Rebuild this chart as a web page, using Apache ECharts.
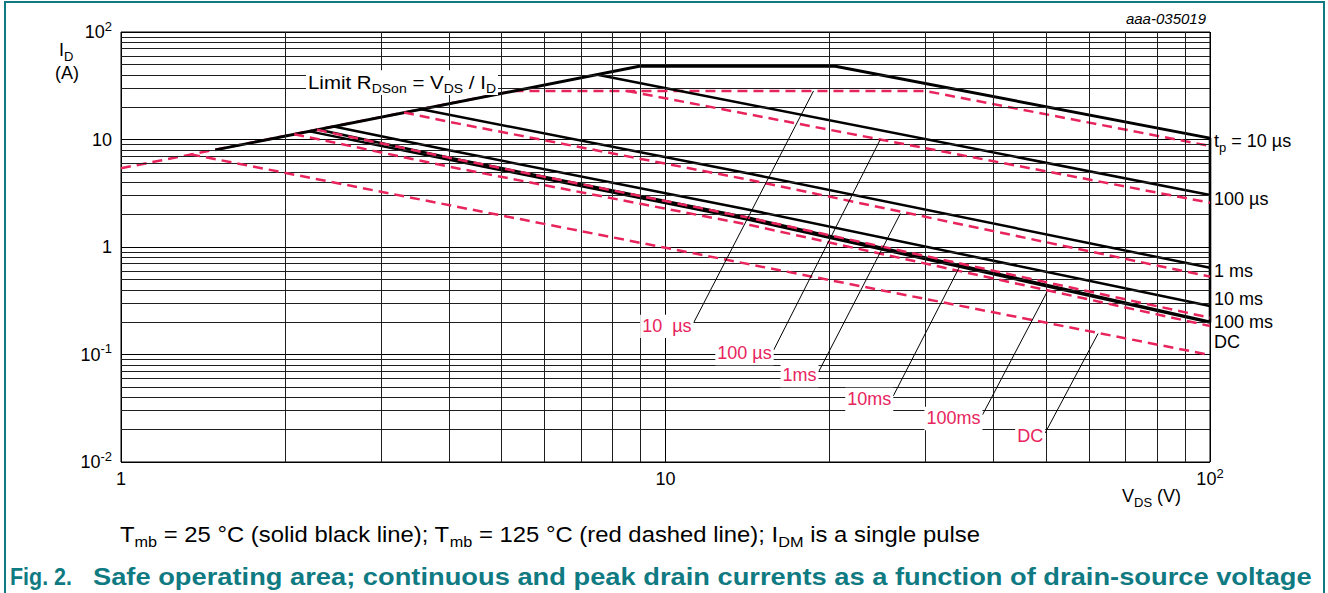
<!DOCTYPE html>
<html>
<head>
<meta charset="utf-8">
<title>Safe operating area</title>
<script src="https://cdn.jsdelivr.net/npm/echarts@6.0.0/dist/echarts.min.js"></script>
<style>
  html, body { margin: 0; padding: 0; background: #fff; }
  #chart { width: 1328px; height: 593px; }
</style>
</head>
<body>
<div id="chart"></div>
<script>
const FONT = '"Liberation Sans", Arial, Helvetica, sans-serif';
const INK = '#000';
const RED = '#e8245d';
const TEAL = '#0f7a82';

// Decade ticks and their labels as [mantissa, exponent]
const xTickValues = [1, 10, 100];
const xTickLabels = [['1', ''], ['10', ''], ['10', '2']];
const yTickValues = [0.01, 0.1, 1, 10, 100];
const yTickLabels = [['10', '-2'], ['10', '-1'], ['1', ''], ['10', ''], ['10', '2']];
const minorSteps = [2, 3, 4, 5, 6, 7, 8, 9];

// Tmb = 25 °C, points as [V_DS (V), I_D (A)]
const tp10us25  = [[1.49, 8.0], [8.95, 48], [20.5, 48], [100, 10.3]];
const tp100us25 = [[7.5, 40], [100, 3.05]];
const tp1ms25   = [[3.56, 19.1], [14.3, 4.8], [100, 0.64]];
const tp10ms25  = [[2.46, 13.2], [4.03, 7.9], [14.3, 2.21], [100, 0.283]];
const tp100ms25 = [[2.30, 12.4], [4.03, 6.73], [14.3, 1.86], [100, 0.202]];
const dc25      = [[2.22, 11.9], [4.03, 6.45], [14.3, 1.78], [100, 0.198]];

// Tmb = 125 °C
const tp10us125  = [[1, 5.4], [5.26, 28.3], [30, 28.3], [100, 8.7]];
const tp100us125 = [[8.5, 28.3], [100, 2.58]];
const tp1ms125   = [[3.31, 17.8], [4.03, 14.5], [14.3, 4.2], [100, 0.53]];
const tp10ms125  = [[2.29, 12.3], [4.03, 6.73], [14.3, 1.86], [100, 0.22]];
const tp100ms125 = [[2.08, 11.2], [4.03, 5.55], [14.3, 1.6], [100, 0.184]];
const dc125      = [[1.34, 7.3], [100, 0.099]];

// V_DS(max) edge of the area
const vdsMax = 100;
const vdsMaxSpan = [10.3, 0.198];

// Call-outs naming the 125 °C curves: text, label end, point on the curve
const calloutText = ['10  µs', '100 µs', '1ms', '10ms', '100ms', 'DC'];
const calloutFrom = [[11.26, 0.197], [15.8, 0.110], [19.1, 0.0688], [26.2, 0.0411], [38.2, 0.0274], [49.8, 0.0186]];
const calloutTo   = [[18.7, 28.3], [24.8, 10.0], [27.0, 2.05], [34.8, 0.677], [50.2, 0.382], [62.3, 0.157]];

// Names written at the right-hand end of the 25 °C curves
const curves25 = [tp10us25, tp100us25, tp1ms25, tp10ms25, tp100ms25, dc25];
const endNames = [
  [['t', ''], ['p', 'sub'], [' = 10 µs', '']],
  [['100 µs', '']],
  [['1 ms', '']],
  [['10 ms', '']],
  [['100 ms', '']],
  [['DC', '']]
];
const endNameShift = [3, 4, 3, -7, 0, 19];

const xMinor = [1, 10].flatMap(d => minorSteps.map(s => s * d));
const yMinor = [0.01, 0.1, 1, 10].flatMap(d => minorSteps.map(s => +(s * d).toPrecision(3)));

const chart = echarts.init(document.getElementById('chart'), null, { renderer: 'svg' });

const solid = (data, w) => ({
  type: 'line', data, symbol: 'none', silent: true, z: 4, animation: false,
  lineStyle: { color: INK, width: w || 2.5 }
});
// the 125 °C envelope runs under the black limit line; the other dashed curves sit on top
const dashed = (data, z) => ({
  type: 'line', data, symbol: 'none', silent: true, z, animation: false,
  lineStyle: { color: RED, width: 2.5, type: [10, 6] }
});

const logAxis = (min, max) => ({
  type: 'log', logBase: 10, min, max,
  axisLine: { show: false }, axisTick: { show: false }, axisLabel: { show: false },
  splitLine: { show: true, lineStyle: { color: INK, width: 1 } },
  minorTick: { show: false }, minorSplitLine: { show: false }
});

const series = [
  {
    type: 'line', data: [[1, 0.01]], symbol: 'none', silent: true, z: 1, animation: false,
    lineStyle: { opacity: 0 },
    markLine: {
      silent: true, symbol: ['none', 'none'], animation: false, label: { show: false },
      lineStyle: { color: '#1e1e1e', width: 1, type: 'solid' },
      emphasis: { disabled: true },
      data: [...xMinor.map(v => ({ xAxis: v })), ...yMinor.map(v => ({ yAxis: v }))]
    }
  },
  dashed(tp10us125, 3),
  solid(tp10us25, 2.9), solid(tp100us25), solid(tp1ms25),
  solid(tp10ms25), solid(tp100ms25), solid(dc25),
  dashed(tp100us125, 5), dashed(tp1ms125, 5),
  dashed(tp10ms125, 5), dashed(tp100ms125, 5), dashed(dc125, 5),
  solid([[vdsMax, vdsMaxSpan[0]], [vdsMax, vdsMaxSpan[1]]], 2.6),
  ...calloutFrom.map((p, i) => ({
    type: 'line', data: [p, calloutTo[i]], symbol: 'none', silent: true, z: 6, animation: false,
    lineStyle: { color: INK, width: 1 }
  }))
];

chart.setOption({
  animation: false,
  backgroundColor: '#fff',
  grid: { left: 121, top: 32, width: 1089, height: 430, show: true, borderColor: INK, borderWidth: 1,
          containLabel: false, outerBoundsMode: 'none' },
  xAxis: logAxis(1, 100),
  yAxis: logAxis(0.01, 100),
  series
});

// ---- text with sub/superscripts, laid out run by run ----
const mctx = document.createElement('canvas').getContext('2d');
function measure(str, size, o) {
  mctx.font = `${o.style || 'normal'} ${o.weight || 'normal'} ${size}px ${FONT}`;
  return mctx.measureText(str).width;
}
function richText(runs, x, y, o) {
  const size = o.size, small = Math.round(size * 0.7);
  const parts = runs.map(([t, k]) => ({ t, k, s: k ? small : size }));
  parts.forEach(p => { p.w = measure(p.t, p.s, o); });
  const natural = parts.reduce((a, p) => a + p.w, 0);
  const sx = o.fit ? o.fit / natural : 1;
  const total = natural * sx;
  let cx = o.align === 'right' ? x - total : o.align === 'center' ? x - total / 2 : x;
  const els = [];
  if (o.bg) {
    els.push({ type: 'rect', z: 99, silent: true,
      shape: { x: cx - 2, y: y - size * 0.62, width: total + 4, height: size * 1.3 },
      style: { fill: o.bg } });
  }
  const base = y + 0.34 * size;
  parts.forEach(p => {
    let cy = y;
    if (p.k === 'sub') cy = base + 0.26 * size - 0.34 * p.s;
    if (p.k === 'sup') cy = base - 0.42 * size - 0.34 * p.s;
    els.push({
      type: 'text', x: cx, y: cy, z: 100, silent: true, scaleX: sx,
      style: {
        text: p.t, fill: o.color || INK,
        fontSize: p.s, fontFamily: FONT, fontWeight: o.weight || 'normal', fontStyle: o.style || 'normal',
        align: 'left', verticalAlign: 'middle', textAlign: 'left', textVerticalAlign: 'middle'
      }
    });
    cx += p.w * sx;
  });
  return els;
}

const px = p => chart.convertToPixel({ xAxisIndex: 0, yAxisIndex: 0 }, p);
const g = [];

// tick labels
yTickValues.forEach((v, i) => {
  const [m, e] = yTickLabels[i];
  g.push(...richText([[m, ''], [e, 'sup']], 112, px([1, v])[1], { size: 18, align: 'right' }));
});
xTickValues.forEach((v, i) => {
  const [m, e] = xTickLabels[i];
  g.push(...richText([[m, ''], [e, 'sup']], px([v, 0.01])[0], 479, { size: 18, align: 'center' }));
});

// axis names
g.push(...richText([['I', ''], ['D', 'sub']], 59, 50, { size: 18 }));
g.push(...richText([['(A)', '']], 55, 73, { size: 18 }));
g.push(...richText([['V', ''], ['DS', 'sub'], [' (V)', '']], 1122, 496, { size: 18 }));

// drawing number
g.push(...richText([['aaa-035019', '']], 1206, 18, { size: 15, style: 'italic', align: 'right' }));

// limit line label
g.push(...richText([['Limit R', ''], ['DSon', 'sub'], [' = V', ''], ['DS', 'sub'], [' / I', ''], ['D', 'sub']],
  308, 82, { size: 19, bg: '#fff', fit: 188 }));

// names at the end of the 25 °C curves
curves25.forEach((c, i) => {
  const p = px(c[c.length - 1]);
  g.push(...richText(endNames[i], p[0] + 4, p[1] + endNameShift[i], { size: 18 }));
});

// call-out labels for the 125 °C curves
calloutFrom.forEach((f, i) => {
  const p = px(f);
  g.push(...richText([[calloutText[i], '']], p[0] - 2, p[1] + 3, { size: 18, color: RED, align: 'right', bg: '#fff' }));
});

// conditions and figure title
g.push(...richText([['T', ''], ['mb', 'sub'], [' = 25 °C (solid black line); T', ''], ['mb', 'sub'],
  [' = 125 °C (red dashed line); I', ''], ['DM', 'sub'], [' is a single pulse', '']], 120, 534, { size: 22, fit: 860 }));
g.push(...richText([['Fig. 2.', '']], 10, 577, { size: 24, weight: 'bold', color: TEAL, fit: 62 }));
g.push(...richText([['Safe operating area; continuous and peak drain currents as a function of drain-source voltage', '']],
  93, 577, { size: 24, weight: 'bold', color: TEAL, fit: 1219 }));

// frame
g.push({ type: 'rect', z: 100, silent: true,
  shape: { x: 5, y: 2, width: 1319, height: 640 },
  style: { fill: 'none', stroke: TEAL, lineWidth: 2 } });

chart.setOption({ graphic: { elements: g } });
</script>
</body>
</html>
